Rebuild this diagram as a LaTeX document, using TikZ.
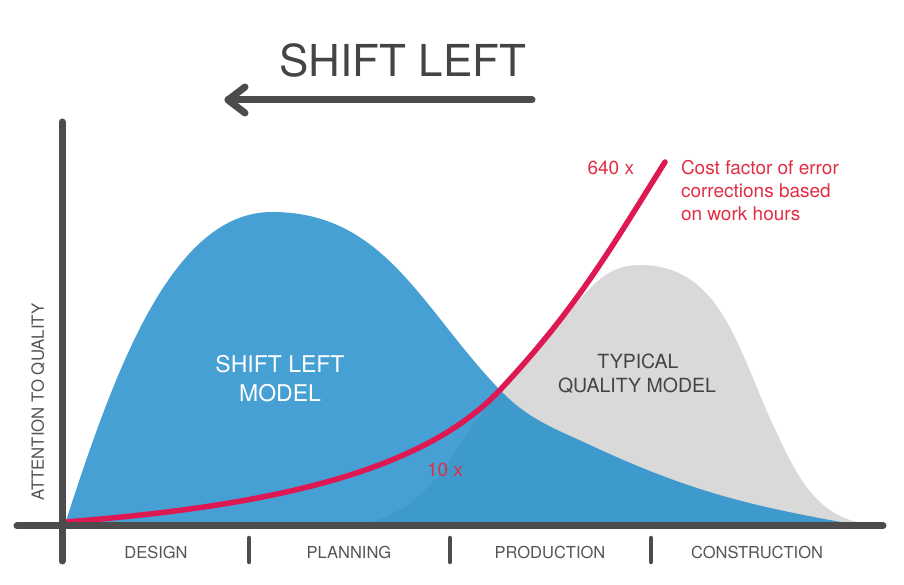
\documentclass[tikz,border=0pt]{standalone}
\usepackage{fontspec}
\setmainfont{TeX Gyre Heros}
\usepackage{xcolor}
\definecolor{shiftblue}{RGB}{29,139,202}
\definecolor{typicalgray}{RGB}{217,217,217}
\definecolor{costred}{RGB}{222,24,82}
\definecolor{costtext}{RGB}{226,46,68}
\definecolor{axisgray}{RGB}{76,76,76}
\definecolor{labelgray}{RGB}{85,85,85}
\definecolor{titlegray}{RGB}{68,68,68}
\usetikzlibrary{positioning}
\usetikzlibrary{calc}

\begin{document}
\begin{tikzpicture}[x=1pt, y=1pt, every node/.style={inner sep=0pt, outer sep=0pt},
	axisline/.style={axisgray, line width=7pt, line cap=round, line join=round},
	phasesep/.style={axisgray, line width=4.5pt, line cap=round},
	phaselabel/.style={text=labelgray, font=\fontsize{16.5}{18}\selectfont, anchor=base},
	costlabel/.style={text=costtext, font=\fontsize{19}{23}\selectfont}]
\useasboundingbox (0,0) rectangle (904,585);

\coordinate (xstart) at (17,59);
\coordinate (xend) at (883,59);
\coordinate (ytop) at (62,463);
\coordinate (ybottom) at (62,24);

\coordinate (g0) at (360,61);
\coordinate (gcross) at (500,195);
\coordinate (gside) at (576,281);
\coordinate (gpeak) at (640,320);
\coordinate (gknee) at (773,160);
\coordinate (gend) at (870,61);

\coordinate (b0) at (65,61);
\coordinate (bpeak) at (272,373);
\coordinate (bknee) at (590,140);
\coordinate (bend) at (852,61);

\coordinate (r0) at (65,63);
\coordinate (rtop) at (665,423);

\coordinate (arrowstart) at (532,485);
\coordinate (arrowtip) at (228,485);

\fill[typicalgray] (g0) to[out=10, in=230] (gcross) to[out=50, in=230] (gside) to[out=50, in=180] (gpeak) to[out=0, in=115] (gknee) to[out=-65, in=175] (gend) -- cycle;
\fill[shiftblue, opacity=0.82] (b0) .. controls (115,216) and (172,373) .. (bpeak) to[out=0, in=134] (gcross) to[out=-46, in=155] (bknee) to[out=-25, in=170] (bend) -- cycle;
\draw[costred, line width=5.5pt, line cap=round] (r0) .. controls (260,78) and (420,110) .. (gcross) to[out=47, in=238] (rtop);

\draw[axisline] (xstart) -- (xend);
\draw[axisline] (ybottom) -- (ytop);
\draw[phasesep] (249,47) -- (249,23);
\draw[phasesep] (450,47) -- (450,23);
\draw[phasesep] (651,47) -- (651,23);

\node(design)[phaselabel] at (156,26) {DESIGN};
\node(planning)[phaselabel] at (349,26) {PLANNING};
\node(production)[phaselabel] at (550,26) {PRODUCTION};
\node(construction)[phaselabel] at (757,26) {CONSTRUCTION};
\node(attention)[text=labelgray, font=\fontsize{16.8}{18}\selectfont, rotate=90] at (38,183) {ATTENTION TO QUALITY};

\node(title)[text=titlegray, font=\fontsize{44}{48}\selectfont, anchor=base] at (403,508) {SHIFT LEFT};
\draw[axisline] (arrowstart) -- (arrowtip);
\draw[axisline] ($(arrowtip)+(17,13)$) -- (arrowtip) -- ($(arrowtip)+(17,-13)$);

\node(shiftleft1)[text=white, font=\fontsize{23}{28}\selectfont, anchor=base] at (280,212) {SHIFT LEFT};
\node(shiftleft2)[text=white, font=\fontsize{23}{28}\selectfont, anchor=base] at (280,183) {MODEL};
\node(typical1)[text=titlegray, font=\fontsize{19.5}{24}\selectfont, anchor=base] at (638,216) {TYPICAL};
\node(typical2)[text=titlegray, font=\fontsize{19.5}{24}\selectfont, anchor=base] at (637,192) {QUALITY MODEL};

\node(factor640)[costlabel, anchor=base east] at (634,410) {640 x};
\node(factor10)[costlabel, anchor=base west] at (427,108) {10 x};
\node(cost1)[costlabel, anchor=base west] at (681,410) {Cost factor of error};
\node(cost2)[costlabel, anchor=base west] at (681,387) {corrections based};
\node(cost3)[costlabel, anchor=base west] at (681,364) {on work hours};
\end{tikzpicture}
\end{document}
